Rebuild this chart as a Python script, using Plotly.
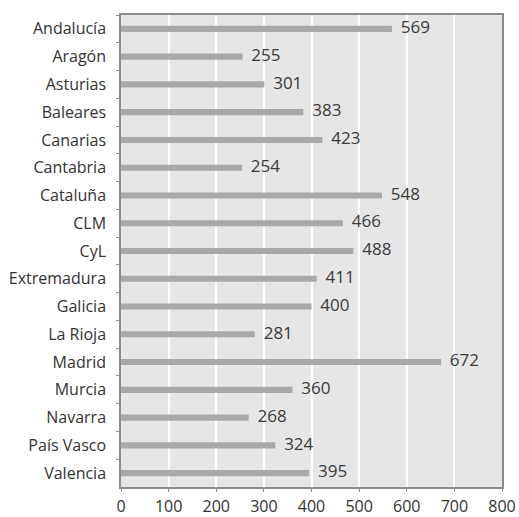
import plotly.graph_objects as go

regions = ["Andalucía", "Aragón", "Asturias", "Baleares", "Canarias", "Cantabria",
           "Cataluña", "CLM", "CyL", "Extremadura", "Galicia", "La Rioja", "Madrid",
           "Murcia", "Navarra", "País Vasco", "Valencia"]
values = [569, 255, 301, 383, 423, 254, 548, 466, 488, 411, 400, 281, 672, 360, 268, 324, 395]
x_ticks = [0, 100, 200, 300, 400, 500, 600, 700, 800]

fig = go.Figure()
fig.add_trace(go.Bar(
    y=regions, x=values, orientation="h",
    marker=dict(color="#a9a9a9", line=dict(width=0)),
    width=0.22, hoverinfo="x+y",
))
fig.add_trace(go.Scatter(
    y=regions, x=values, mode="text",
    text=["  " + str(v) for v in values], textposition="middle right",
    textfont=dict(size=17, color="#3a3a3a", family="Open Sans"),
    cliponaxis=False, hoverinfo="skip",
))

fig.update_layout(
    width=519, height=517,
    margin=dict(l=121, r=17, t=15, b=30),
    paper_bgcolor="white", plot_bgcolor="#e6e6e6",
    font=dict(family="Open Sans", color="#333333"),
    showlegend=False,
)
fig.update_xaxes(
    range=[0, 800], tickvals=x_ticks, ticktext=[str(t) for t in x_ticks],
    showgrid=True, gridcolor="white", gridwidth=1.5,
    showline=True, linecolor="#8c8c8c", linewidth=1.5, mirror=True,
    ticks="outside", ticklen=3, tickcolor="#8c8c8c",
    tickfont=dict(size=16, color="#333333"), zeroline=False,
    ticklabelstandoff=1, automargin=False,
)
fig.update_yaxes(
    range=[len(regions) - 0.5, -0.5], showgrid=False,
    showline=True, linecolor="#8c8c8c", linewidth=1.5, mirror=True,
    ticks="outside", tickson="boundaries", ticklen=3, tickcolor="#8c8c8c",
    tickfont=dict(size=16, color="#333333"), ticklabelstandoff=10,
    automargin=False,
)

fig.write_html("out.html")
